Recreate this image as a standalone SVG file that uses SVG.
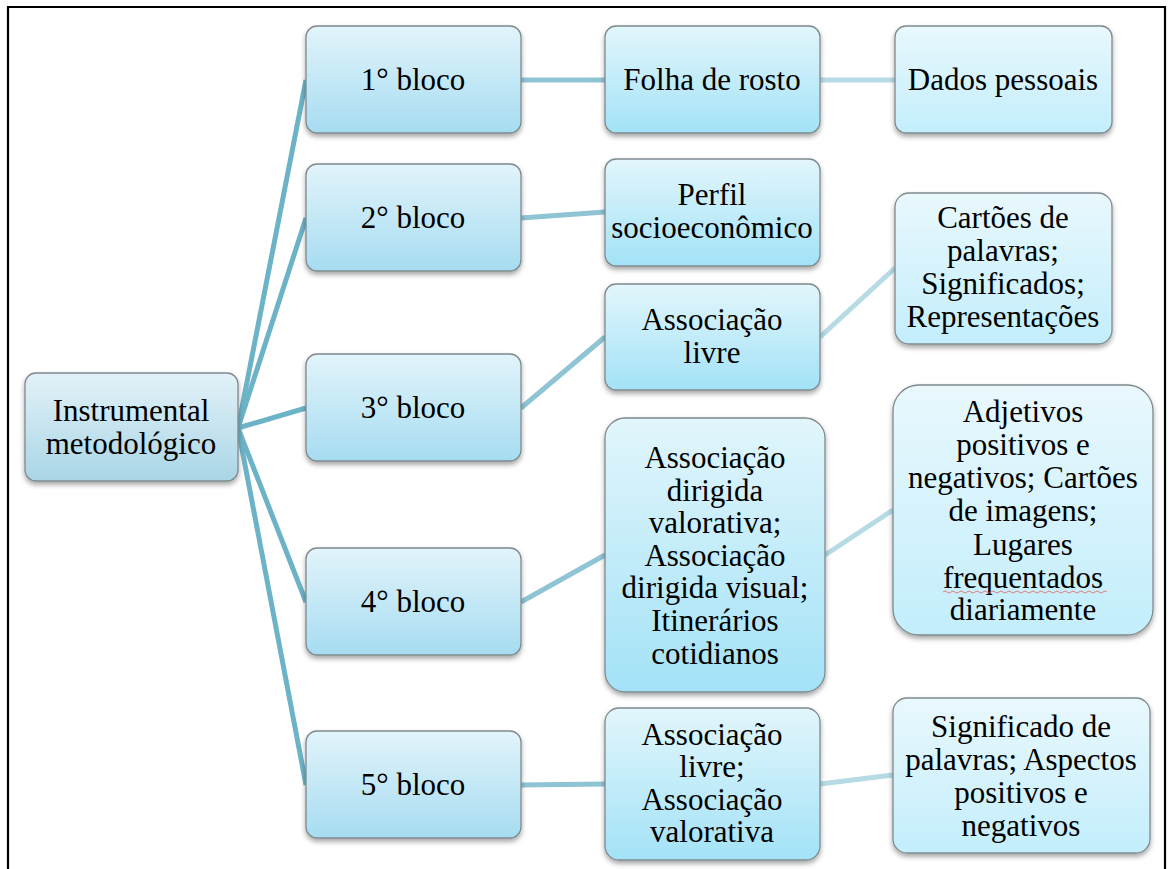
<svg xmlns="http://www.w3.org/2000/svg" width="1168" height="869" viewBox="0 0 1168 869">
<defs>
<linearGradient id="g0" x1="0" y1="0" x2="0" y2="1"><stop offset="0" stop-color="#e3f2f8"/><stop offset="1" stop-color="#a9d5e6"/></linearGradient>
<linearGradient id="g1" x1="0" y1="0" x2="0" y2="1"><stop offset="0" stop-color="#e2f4fb"/><stop offset="1" stop-color="#a6dcf1"/></linearGradient>
<linearGradient id="g2" x1="0" y1="0" x2="0" y2="1"><stop offset="0" stop-color="#e2f6fc"/><stop offset="1" stop-color="#a3e2f7"/></linearGradient>
<linearGradient id="g3" x1="0" y1="0" x2="0" y2="1"><stop offset="0" stop-color="#e9f8fd"/><stop offset="1" stop-color="#c3eefc"/></linearGradient>
<filter id="sh" x="-10%" y="-10%" width="120%" height="130%"><feDropShadow dx="0" dy="3" stdDeviation="2.5" flood-color="#000" flood-opacity="0.35"/></filter>
</defs>
<style>
.n{stroke:#7f8a8e;stroke-width:1.3;filter:url(#sh)}
.t{font-family:"Liberation Serif","Times New Roman",serif;font-size:31px;fill:#000;text-anchor:middle}
.c0{stroke:#6db3c8;stroke-width:5;fill:none}
.c1{stroke:#8fc4d4;stroke-width:5;fill:none}
.c2{stroke:#b6dbe5;stroke-width:5;fill:none}
</style>
<rect x="0" y="0" width="1168" height="869" fill="#fff"/>
<g id="frame" fill="none" stroke="#000" stroke-width="2.2">
<path d="M8,869 V7 H1165 V869"/>
</g>
<g id="connectors">
<line class="c0" x1="238" y1="428" x2="306" y2="80"/>
<line class="c0" x1="238" y1="428" x2="306" y2="218"/>
<line class="c0" x1="238" y1="428" x2="306" y2="408"/>
<line class="c0" x1="238" y1="428" x2="306" y2="602"/>
<line class="c0" x1="238" y1="428" x2="306" y2="785"/>
<line class="c1" x1="521" y1="80" x2="605" y2="80"/>
<line class="c1" x1="521" y1="218" x2="605" y2="212"/>
<line class="c1" x1="521" y1="408" x2="605" y2="337"/>
<line class="c1" x1="521" y1="602" x2="605" y2="555"/>
<line class="c1" x1="521" y1="785" x2="605" y2="784"/>
<line class="c2" x1="820" y1="80" x2="895" y2="80"/>
<line class="c2" x1="820" y1="337" x2="895" y2="268"/>
<line class="c2" x1="825" y1="555" x2="893" y2="510"/>
<line class="c2" x1="820" y1="784" x2="893" y2="775"/>
</g>
<g id="root"><rect class="n" x="25" y="373" width="213" height="108" rx="11" fill="url(#g0)"/>
<text class="t" x="131" y="421">Instrumental</text><text class="t" x="131" y="454">metodológico</text></g>
<g id="b1"><rect class="n" x="306" y="26" width="215" height="107" rx="11" fill="url(#g1)"/><text class="t" x="413" y="90">1° bloco</text></g>
<g id="b2"><rect class="n" x="306" y="164" width="215" height="107" rx="11" fill="url(#g1)"/><text class="t" x="413" y="228">2° bloco</text></g>
<g id="b3"><rect class="n" x="306" y="354" width="215" height="107" rx="11" fill="url(#g1)"/><text class="t" x="413" y="418">3° bloco</text></g>
<g id="b4"><rect class="n" x="306" y="548" width="215" height="107" rx="11" fill="url(#g1)"/><text class="t" x="413" y="612">4° bloco</text></g>
<g id="b5"><rect class="n" x="306" y="731" width="215" height="107" rx="11" fill="url(#g1)"/><text class="t" x="413" y="795">5° bloco</text></g>
<g id="folha"><rect class="n" x="605" y="26" width="215" height="107" rx="11" fill="url(#g2)"/><text class="t" x="712" y="90">Folha de rosto</text></g>
<g id="perfil"><rect class="n" x="605" y="159" width="215" height="107" rx="11" fill="url(#g2)"/><text class="t" x="712" y="205">Perfil</text><text class="t" x="712" y="238">socioeconômico</text></g>
<g id="alivre"><rect class="n" x="605" y="284" width="215" height="106" rx="11" fill="url(#g2)"/><text class="t" x="712" y="330">Associação</text><text class="t" x="712" y="363">livre</text></g>
<g id="adirigida"><rect class="n" x="605" y="418" width="220" height="274" rx="20" fill="url(#g2)"/>
<text class="t" x="715" y="468">Associação</text><text class="t" x="715" y="501">dirigida</text><text class="t" x="715" y="533">valorativa;</text><text class="t" x="715" y="566">Associação</text><text class="t" x="715" y="598">dirigida visual;</text><text class="t" x="715" y="631">Itinerários</text><text class="t" x="715" y="664">cotidianos</text></g>
<g id="avalor"><rect class="n" x="605" y="708" width="215" height="152" rx="14" fill="url(#g2)"/>
<text class="t" x="712" y="745">Associação</text><text class="t" x="712" y="777">livre;</text><text class="t" x="712" y="810">Associação</text><text class="t" x="712" y="842">valorativa</text></g>
<g id="dados"><rect class="n" x="895" y="26" width="217" height="107" rx="11" fill="url(#g3)"/><text class="t" x="1003" y="90">Dados pessoais</text></g>
<g id="cartoes"><rect class="n" x="895" y="193" width="217" height="151" rx="14" fill="url(#g3)"/>
<text class="t" x="1003" y="228">Cartões de</text><text class="t" x="1003" y="261">palavras;</text><text class="t" x="1003" y="294">Significados;</text><text class="t" x="1003" y="327">Representações</text></g>
<g id="adjetivos"><rect class="n" x="893" y="385" width="260" height="250" rx="26" fill="url(#g3)"/>
<text class="t" x="1023" y="422">Adjetivos</text><text class="t" x="1023" y="455">positivos e</text><text class="t" x="1023" y="488">negativos; Cartões</text><text class="t" x="1023" y="521">de imagens;</text><text class="t" x="1023" y="555">Lugares</text><text class="t" x="1023" y="588">frequentados</text><text class="t" x="1023" y="620">diariamente</text>
<path d="M943,592 q2,-2 4,0 t4,0 t4,0 t4,0 t4,0 t4,0 t4,0 t4,0 t4,0 t4,0 t4,0 t4,0 t4,0 t4,0 t4,0 t4,0 t4,0 t4,0 t4,0 t4,0 t4,0 t4,0 t4,0 t4,0 t4,0 t4,0 t4,0 t4,0 t4,0 t4,0 t4,0 t4,0 t4,0 t4,0 t4,0 t4,0 t4,0 t4,0 t4,0 t4,0 t4,0" fill="none" stroke="#e06060" stroke-width="0.8"/></g>
<g id="significado"><rect class="n" x="893" y="698" width="257" height="155" rx="14" fill="url(#g3)"/>
<text class="t" x="1021" y="737">Significado de</text><text class="t" x="1021" y="770">palavras; Aspectos</text><text class="t" x="1021" y="803">positivos e</text><text class="t" x="1021" y="836">negativos</text></g>
</svg>
